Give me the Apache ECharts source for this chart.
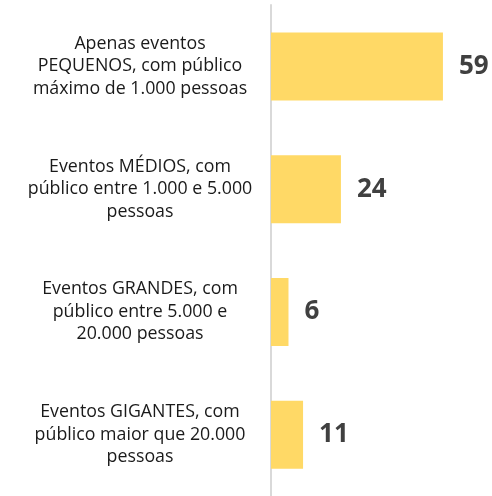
<!DOCTYPE html>
<html>
<head>
<meta charset="utf-8">
<script src="https://cdn.jsdelivr.net/npm/echarts@6/dist/echarts.min.js"></script>
<style>
  html, body { margin: 0; padding: 0; background: #fff; }
  #main { width: 492px; height: 496px; }
</style>
</head>
<body>
<div id="main"></div>
<script>
const categories = [
  "Apenas eventos\nPEQUENOS, com público\nmáximo de 1.000 pessoas",
  "Eventos MÉDIOS, com\npúblico entre 1.000 e 5.000\npessoas",
  "Eventos GRANDES, com\npúblico entre 5.000 e\n20.000 pessoas",
  "Eventos GIGANTES, com\npúblico maior que 20.000\npessoas"
];
const values = [59, 24, 6, 11];

const chart = echarts.init(document.getElementById("main"));
chart.setOption({
  animation: false,
  grid: { left: 271, right: 17, top: 5, height: 493 },
  xAxis: {
    type: "value",
    min: 0,
    max: 70,
    show: false
  },
  yAxis: {
    type: "category",
    data: categories,
    inverse: true,
    axisLine: { show: true, lineStyle: { color: "#d9d9d9", width: 2 } },
    axisTick: { show: false },
    axisLabel: {
      align: "center",
      margin: 131,
      fontFamily: "Open Sans",
      fontSize: 17.8,
      lineHeight: 22.5,
      color: "#1a1a1a"
    }
  },
  series: [
    {
      type: "bar",
      data: values,
      barWidth: 68,
      itemStyle: { color: "#ffd966" },
      label: {
        show: true,
        position: "right",
        distance: 16,
        fontFamily: "Open Sans",
        fontWeight: "bold",
        fontSize: 26,
        color: "#404040"
      }
    }
  ]
});
</script>
</body>
</html>
